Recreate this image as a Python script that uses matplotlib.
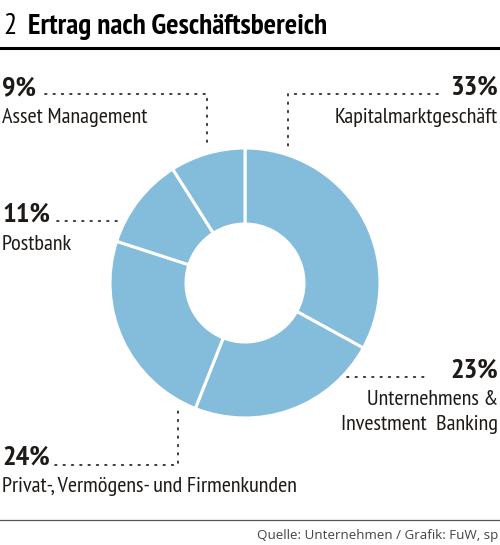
import matplotlib
matplotlib.use("Agg")
import matplotlib.pyplot as plt

# data
segments = ["Kapitalmarktgeschäft", "Unternehmens &\nInvestment  Banking",
            "Privat-, Vermögens- und Firmenkunden", "Postbank", "Asset Management"]
shares = [33, 23, 24, 11, 9]
pct_labels = ["33%", "23%", "24%", "11%", "9%"]

H = 545
cond = ["PT Sans Narrow", "DejaVu Sans"]
ink = "#1e1a17"
blue = "#84bcdc"

fig = plt.figure(figsize=(5.0, 5.45), dpi=100)
ax = fig.add_axes([0, 0, 1, 1])

ax.pie(shares, center=(245, H - 283), radius=135, startangle=90, counterclock=False,
       colors=[blue] * len(shares),
       wedgeprops=dict(width=76, edgecolor="white", linewidth=2.2))

ax.set_xlim(0, 500)
ax.set_ylim(0, H)
ax.set_aspect("auto")
ax.axis("off")


def y(v):
    return H - v


def dots(xs, ys):
    ax.plot(xs, [y(v) for v in ys], color=ink, lw=1.2, ls=(0, (1, 4)),
            dash_capstyle="round", solid_capstyle="round")


def pct(x, base, s, ha):
    ax.text(x, y(base), s, fontsize=20.5, family=cond, fontweight="bold",
            color=ink, ha=ha, va="baseline")


def lab(x, base, s, ha):
    ax.text(x, y(base), s, fontsize=16, family=cond, color=ink,
            ha=ha, va="baseline")


# title
ax.text(3, y(34), "2", fontsize=21, family=cond, color="black", va="baseline")
ax.text(28, y(34), "Ertrag nach Geschäftsbereich", fontsize=21, family=cond,
        fontweight="bold", color="black", va="baseline")
ax.plot([0, 500], [y(48), y(48)], color="black", lw=2.2)

# 33 %
pct(498, 95, pct_labels[0], "right")
lab(498, 123, segments[0], "right")
dots([438, 288, 288], [94, 94, 148])

# 23 %
pct(498, 378, pct_labels[1], "right")
lab(498, 405, "Unternehmens &", "right")
lab(498, 430, "Investment  Banking", "right")
dots([347, 430], [377, 377])

# 24 %
pct(2, 465, pct_labels[2], "left")
lab(2, 492, segments[2], "left")
dots([55, 178, 178], [465, 465, 405])

# 11 %
pct(2, 222, pct_labels[3], "left")
lab(2, 250, segments[3], "left")
dots([57, 123], [221, 221])

# 9 %
pct(2, 95, pct_labels[4], "left")
lab(2, 123, segments[4], "left")
dots([45, 207, 207], [94, 94, 148])

# footer
ax.plot([0, 500], [y(520), y(520)], color="#555555", lw=0.9)
ax.text(498, y(539), "Quelle: Unternehmen / Grafik: FuW, sp", fontsize=9.6,
        family=["Open Sans", "DejaVu Sans"], color="#444444", ha="right", va="baseline")

fig.savefig("out.png", dpi=100)
